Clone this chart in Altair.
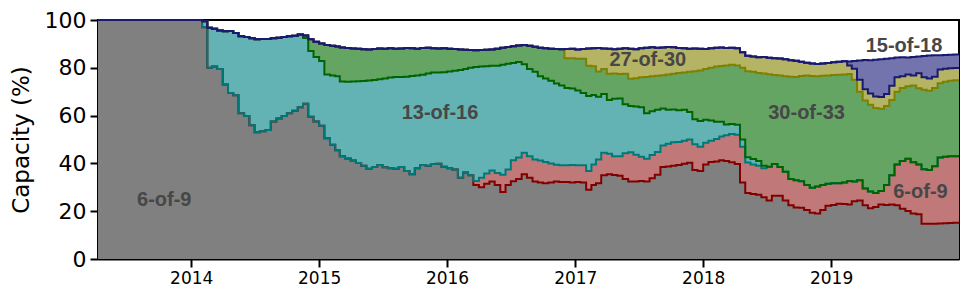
import altair as alt
import pandas as pd

# Semi-monthly sample dates (1st and 16th of each month), plus the left/right domain ends
dates = (["2013-04-10"]
         + [f"{y}-{m:02d}-{d:02d}" for y in range(2014, 2020) for m in range(1, 13)
            for d in (1, 16) if (y, m) >= (2014, 2)]
         + ["2020-01-01"])

# Cumulative capacity (%) at the top of each stacked scheme
total = [100.0] + [
    99.5, 96.8, 96.3, 95.6, 95.3, 95.4, 94.6, 93.2, 92.9, 92.4,
    91.9, 92.0, 92.1, 92.4, 92.6, 92.9, 93.2, 93.4, 93.9, 93.5,
    91.9, 90.9, 90.2, 89.5, 89.2, 88.9, 88.5, 88.3, 88.1, 88.0,
    87.8, 87.7, 87.9, 88.1, 88.0, 88.2, 88.0, 88.1, 88.3, 88.2,
    88.0, 88.3, 88.4, 88.2, 88.1, 88.2, 88.0, 87.9, 87.7, 87.6,
    87.5, 87.3, 87.5, 87.6, 87.7, 88.0, 88.4, 88.7, 89.0, 89.3,
    89.5, 89.2, 88.8, 88.4, 88.2, 88.0, 87.9, 87.8, 87.9, 88.0,
    87.7, 87.9, 88.1, 88.2, 88.3, 88.1, 88.0, 87.8, 88.0, 88.2,
    88.0, 87.8, 88.2, 88.4, 88.6, 88.4, 88.5, 88.7, 88.6, 88.3,
    88.2, 88.0, 88.1, 88.0, 87.9, 88.2, 88.4, 88.5, 88.3, 88.4,
    88.2, 86.5, 85.0, 84.7, 84.4, 84.5, 84.2, 84.0, 83.9, 83.6,
    83.2, 82.9, 82.5, 82.1, 81.8, 81.6, 81.8, 82.0, 82.3, 82.5,
    82.7, 82.6, 82.8, 83.1, 83.3, 83.2, 83.4, 83.6, 83.8, 84.0,
    84.3, 84.4, 84.3, 84.5, 84.7, 84.9, 85.1, 85.2, 85.3, 85.4,
    85.5, 85.6] + [85.6]

top_olive = total[:122] + [
    81.0, 79.6, 75.0, 71.0, 69.2, 68.0, 67.8, 69.0, 72.5, 76.0,
    76.5, 77.2, 76.8, 77.7, 76.0, 75.5, 76.3, 79.3, 79.6, 79.8,
    79.9] + [79.9]

top_green = total[:69] + [
    84.0, 84.0, 83.8, 83.8, 80.9, 80.6, 78.5, 79.5, 77.5, 77.6, 77.4, 77.5,
    75.4, 75.6, 76.0, 76.2, 76.5, 76.7, 76.9, 77.2, 77.5, 77.8,
    78.0, 78.3, 78.6, 78.9, 79.5, 80.0, 80.5, 80.8, 81.0, 81.3,
    81.0, 80.0, 78.6, 78.3, 77.8, 77.6, 77.3, 77.0, 76.8, 76.5,
    76.3, 76.2, 76.6, 76.8, 76.6, 76.5, 76.7, 76.8, 77.0, 77.1,
    77.2, 77.4, 75.0, 70.0, 66.3, 64.5, 63.2, 62.9, 64.0, 66.5,
    70.0, 71.5, 72.3, 72.6, 71.4, 70.8, 70.4, 71.5, 73.5, 74.2, 74.6, 74.8] + [74.8]

top_teal = total[:20] + [
    92.5, 87.0, 84.5, 82.8, 77.2, 76.8, 76.5, 74.3, 74.2, 74.3, 74.4,
    74.5, 74.7, 74.9, 75.2, 75.5, 75.9, 76.1, 76.2, 76.3, 76.6,
    76.8, 77.1, 77.6, 78.0, 78.0, 78.1, 78.4, 78.8, 79.1, 79.5,
    80.0, 80.3, 80.5, 80.7, 80.9, 80.9, 81.3, 81.7, 82.0, 82.4,
    81.5, 79.5, 78.3, 76.5, 75.5, 74.6, 73.4, 72.6, 71.5, 71.3,
    70.5, 69.5, 68.2, 68.6, 67.9, 69.0, 66.5, 67.0, 67.2, 64.8,
    64.0, 63.8, 63.5, 61.0, 61.8, 62.5, 63.0, 62.4, 62.6, 62.2,
    62.4, 61.5, 58.5, 57.7, 58.3, 58.0, 57.4, 57.4, 56.3, 56.5,
    56.2, 50.0, 42.6, 41.8, 41.0, 39.0, 38.6, 39.8, 38.5, 36.5,
    33.5, 33.0, 32.5, 31.0, 29.8, 30.3, 31.0, 31.5, 31.7, 31.7,
    32.0, 32.6, 32.4, 33.0, 29.5, 28.2, 27.6, 28.5, 31.0, 35.0,
    39.5, 41.0, 41.9, 40.5, 39.5, 37.6, 37.2, 38.8, 42.5, 42.8, 43.0, 43.0] + [43.0]

top_red = [100.0] + [
    97.0, 80.0, 80.5, 79.5, 73.0, 69.5, 68.5, 61.0, 59.8, 56.0,
    53.0, 53.5, 54.0, 57.5, 58.8, 59.8, 61.0, 62.0, 63.5, 65.0,
    59.5, 57.5, 55.8, 50.5, 47.8, 45.5, 43.0, 42.0, 41.2, 40.2,
    39.0, 37.8, 38.5, 39.3, 38.4, 38.0, 37.8, 38.5, 36.8, 35.5,
    38.0, 39.3, 39.0, 39.7, 39.9, 38.6, 38.0, 37.5, 34.0, 36.2,
    35.0, 32.6, 34.0, 35.8, 37.0, 36.0, 35.2, 37.5, 41.3, 42.5,
    44.5, 43.0, 41.6, 41.2, 40.6, 40.0, 39.4, 39.2, 39.2, 39.3,
    39.2, 39.2, 36.8, 39.5, 41.6, 44.5, 44.0, 43.0, 43.0, 44.2,
    44.7, 43.6, 42.8, 41.9, 43.5, 44.8, 47.5, 48.2, 48.8, 49.0,
    49.5, 50.0, 48.0, 47.0, 48.6, 49.5, 50.2, 51.3, 51.8, 52.3,
    52.0, 47.0, 40.4, 39.5, 39.0, 38.0] + top_teal[107:]

top_gray = top_red[:52] + [
    31.0, 30.0, 31.5, 32.4, 31.0, 28.0, 31.0, 32.5, 33.5,
    35.5, 34.0, 32.4, 32.0, 31.7, 32.0, 32.4, 32.2, 32.2, 32.0,
    32.2, 32.0, 29.0, 31.0, 31.7, 35.0, 35.5, 35.1, 34.8, 33.5,
    32.4, 32.4, 32.6, 32.4, 33.8, 35.3, 38.5, 38.7, 39.0, 39.3,
    39.9, 40.3, 37.2, 36.8, 39.5, 40.6, 40.8, 41.3, 41.0, 40.5,
    39.8, 32.0, 27.6, 27.2, 26.9, 25.8, 24.5, 26.5, 26.5, 24.5,
    22.5, 21.6, 21.4, 20.5, 19.4, 19.0, 20.5, 22.3, 22.6, 23.1,
    23.0, 22.8, 24.2, 24.5, 22.5, 21.2, 21.8, 22.8, 22.6, 22.8,
    22.5, 21.0, 20.1, 19.0, 18.7, 14.8, 14.7, 14.8, 14.9, 15.0, 15.1, 15.2] + [15.2]

for arr in (total, top_olive, top_green, top_teal, top_red, top_gray):
    assert len(arr) == len(dates), len(arr)

# Scheme labels and their positions
label_text = ["6-of-9", "13-of-16", "27-of-30", "30-of-33", "15-of-18", "6-of-9"]
label_date = ["2013-10-16", "2015-12-12", "2017-07-27", "2018-10-23", "2019-07-28", "2019-09-13"]
label_value = [24.6, 61.1, 83.2, 61.1, 89.3, 27.9]

df = pd.DataFrame({
    "date": dates,
    "b0": [0.0] * len(dates),
    "b1": top_gray, "b2": top_red, "b3": top_teal,
    "b4": top_green, "b5": top_olive, "b6": total,
})
labels = pd.DataFrame({"label": label_text, "date": label_date, "value": label_value})

x_enc = alt.X(
    "date:T",
    scale=alt.Scale(type="utc", nice=False,
                    domain=[alt.DateTime(year=2013, month=4, date=10, utc=True),
                            alt.DateTime(year=2020, month=1, date=1, utc=True)]),
    axis=alt.Axis(values=[alt.DateTime(year=y, month=1, date=1, utc=True) for y in range(2014, 2020)],
                  format="%Y", formatType="utc", title=None, grid=False,
                  labelFontSize=17, labelFont="DejaVu Sans", labelColor="black",
                  tickSize=8, tickWidth=2, tickColor="black",
                  domainColor="black", domainWidth=2, labelPadding=3),
)

y_scale = alt.Scale(domain=[0, 100], nice=False)
y_axis = alt.Axis(values=[0, 20, 40, 60, 80, 100], title="Capacity (%)", grid=False,
                  labelFontSize=22, labelFont="DejaVu Sans", labelColor="black",
                  tickSize=8, tickWidth=2, tickColor="black",
                  domainColor="black", domainWidth=2, labelPadding=4,
                  titleFont="DejaVu Sans", titleFontSize=23, titleFontWeight="normal",
                  titleColor="black", titleAngle=270, titleX=-70, titleY=119.5,
                  titleAlign="center", titleBaseline="alphabetic")

base = alt.Chart(df)

fills = [("b0", "b1", "#808080"), ("b1", "b2", "#c07878"), ("b2", "b3", "#64b3b4"),
         ("b3", "b4", "#64a564"), ("b4", "b5", "#b4b464"), ("b5", "b6", "#7373ad")]
lines = [("b1", "#800000"), ("b2", "#007878"), ("b3", "#006400"),
         ("b4", "#808000"), ("b5", "#191970"), ("b6", "#191970")]

layers = []
for lo, hi, col in fills:
    layers.append(base.mark_area(interpolate="step-after", color=col, opacity=1).encode(
        x=x_enc, y=alt.Y(f"{hi}:Q", scale=y_scale, axis=y_axis), y2=f"{lo}:Q"))
for b, col in lines:
    layers.append(base.mark_line(interpolate="step-after", color=col, strokeWidth=2).encode(
        x=x_enc, y=alt.Y(f"{b}:Q", scale=y_scale, axis=y_axis)))

text = alt.Chart(labels).mark_text(font="Liberation Sans", fontWeight="bold", fontSize=20,
                                   color="#474747", align="center", baseline="middle").encode(
    x=x_enc, y=alt.Y("value:Q", scale=y_scale, axis=y_axis), text="label:N")
layers.append(text)

chart = alt.layer(*layers).properties(
    width=861, height=239,
    autosize=alt.AutoSizeParams(type="none"),
    padding={"left": 90, "top": 12, "right": 1, "bottom": 29},
).configure_view(stroke="black", strokeWidth=2)

chart.save("out.html", embed_options={"renderer": "svg", "actions": False})
